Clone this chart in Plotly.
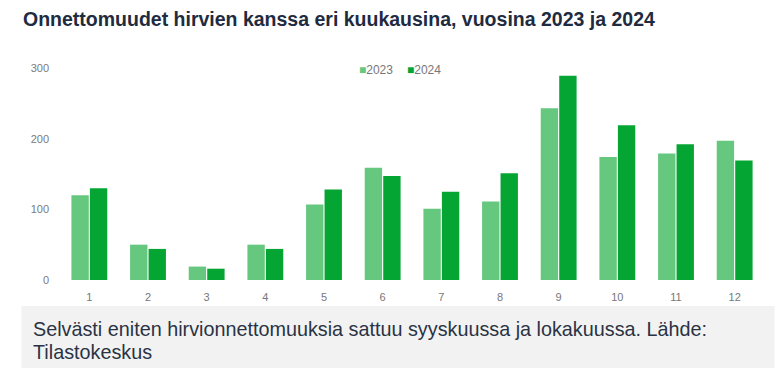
import plotly.graph_objects as go

months = ["1", "2", "3", "4", "5", "6", "7", "8", "9", "10", "11", "12"]
values_2023 = [120, 50, 19, 50, 107, 159, 101, 111, 243, 174, 179, 197]
values_2024 = [130, 44, 16, 44, 128, 147, 125, 151, 289, 219, 192, 169]
series_names = ["2023", "2024"]
series_colors = ["#66c77f", "#05a534"]
y_ticks = [0, 100, 200, 300]

title_text = "Onnettomuudet hirvien kanssa eri kuukausina, vuosina 2023 ja 2024"
caption_lines = ["Selvästi eniten hirvionnettomuuksia sattuu syyskuussa ja lokakuussa. Lähde:",
                 "Tilastokeskus"]

W, H = 783, 369
L, R, T, B = 59.6, 18.6, 67.5, 88.5
PW, PH = W - L - R, H - T - B
FONT = "Liberation Sans, Arial, sans-serif"

def px(x):
    return (x - L) / PW

def py(y):
    return (H - B - y) / PH

fig = go.Figure()
for name, vals, col in zip(series_names, [values_2023, values_2024], series_colors):
    fig.add_trace(go.Bar(x=months, y=vals, name=name, marker_color=col, showlegend=False))

legend_ann = []
for lx, name, col in zip([357, 405], series_names, series_colors):
    legend_ann.append(dict(
        text='<span style="color:%s">■</span>%s' % (col, name),
        xref="paper", yref="paper", x=px(lx), y=py(70), xanchor="left", yanchor="middle",
        showarrow=False, font=dict(size=12, color="#777777", family=FONT)))

fig.update_layout(
    template="none",
    width=W, height=H,
    margin=dict(l=L, r=R, t=T, b=B, autoexpand=False),
    paper_bgcolor="white", plot_bgcolor="white",
    barmode="group", bargap=0.37, bargroupgap=0.06,
    font=dict(family=FONT, color="#777777", size=11),
    showlegend=False,
    xaxis=dict(type="category", tickmode="array", tickvals=months, ticktext=months,
               showgrid=False, zeroline=False, showline=False, ticks="",
               tickfont=dict(size=11, color="#777777"), ticklabelstandoff=9),
    yaxis=dict(range=[0, 300], tickvals=y_ticks, showgrid=False, zeroline=False,
               showline=False, ticks="", tickfont=dict(size=11, color="#7a7a7a"),
               ticklabelstandoff=10),
    shapes=[dict(type="rect", xref="paper", yref="paper",
                 x0=px(21), x1=px(775), y0=py(369), y1=py(306.7),
                 fillcolor="#f2f2f2", line=dict(width=0), layer="below")],
    annotations=[
        dict(text="<b>" + title_text + "</b>", xref="paper", yref="paper",
             x=px(21), y=py(18), xanchor="left", yanchor="middle", showarrow=False,
             font=dict(size=19.5, color="#1e2b40", family=FONT)),
        dict(text=caption_lines[0], xref="paper", yref="paper", align="left",
             x=px(31), y=py(330), xanchor="left", yanchor="middle", showarrow=False,
             font=dict(size=19.8, color="#2a3344", family=FONT)),
        dict(text=caption_lines[1], xref="paper", yref="paper", align="left",
             x=px(31), y=py(353), xanchor="left", yanchor="middle", showarrow=False,
             font=dict(size=19.8, color="#2a3344", family=FONT)),
    ] + legend_ann,
)

fig.write_html("out.html", config={"displayModeBar": False},
               post_script="document.body.style.margin='0';")
